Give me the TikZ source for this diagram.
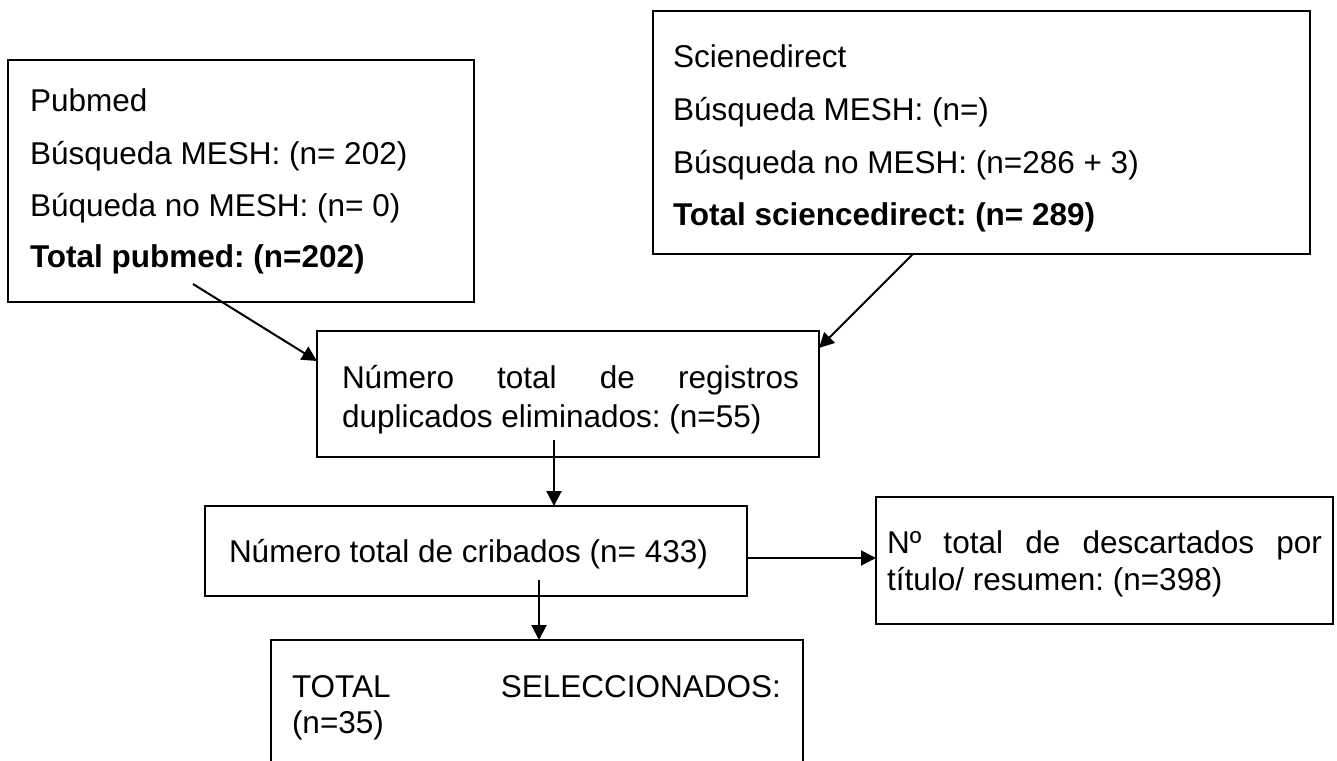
\documentclass[tikz,border=0pt]{standalone}
\usepackage{fontspec}
\setmainfont{Liberation Sans}
\usetikzlibrary{arrows.meta,calc}
\frenchspacing
\begin{document}
\begin{tikzpicture}[x=1pt,y=-1pt,
  box/.style={draw, line width=1.5pt, inner sep=0pt, outer sep=0pt},
  txt/.style={anchor=base west, inner sep=0pt, outer sep=0pt, font=\fontsize{31.5}{36}\selectfont},
  arr/.style={line width=2pt, -{Triangle[length=15pt,width=15pt]}}]
\useasboundingbox (0,0) rectangle (1337,760);
\clip (0,0) rectangle (1337,760);
% boxes
\node[box, minimum width=466pt, minimum height=242pt] (pub) at (241,181) {};
\node[box, minimum width=657pt, minimum height=243pt] (sci) at (981.5,132.5) {};
\node[box, minimum width=502pt, minimum height=126pt] (reg) at (568,394) {};
\node[box, minimum width=542pt, minimum height=90pt] (crib) at (476,551) {};
\node[box, minimum width=457pt, minimum height=127pt] (desc) at (1104.5,560.5) {};
\node[box, minimum width=532pt, minimum height=150pt] (sel) at (537,715) {};
% texts
\node[txt] (pubt1) at (30,111) {Pubmed};
\node[txt] (pubt2) at (30,164) {Búsqueda MESH: (n= 202)};
\node[txt] (pubt3) at (30,216) {Búqueda no MESH: (n= 0)};
\node[txt] (pubt4) at (30,267) {\bfseries Total pubmed: (n=202)};
\node[txt] (scit1) at (673,67) {Scienedirect};
\node[txt] (scit2) at (673,120) {Búsqueda MESH: (n=)};
\node[txt] (scit3) at (673,173) {Búsqueda no MESH: (n=286 + 3)};
\node[txt] (scit4) at (673,225) {\bfseries Total sciencedirect: (n= 289)};
\node[txt] (regt1) at (342,388) {\makebox[457pt][s]{Número total de registros}};
\node[txt] (regt2) at (342,427) {duplicados eliminados: (n=55)};
\node[txt] (cribt) at (229,562) {Número total de cribados (n= 433)};
\node[txt] (desct1) at (887,553) {\makebox[435pt][s]{Nº total de descartados por}};
\node[txt] (desct2) at (887,590) {título/ resumen: (n=398)};
\node[txt] (selt1) at (292,697) {\makebox[489pt][s]{TOTAL SELECCIONADOS:}};
\node[txt] (selt2) at (292,733) {(n=35)};
% connectors
\coordinate (pubout) at (193,284);
\coordinate (sciout) at ($(sci.south west)+(260,0)$);
\coordinate (regout) at (554,440);
\coordinate (cribout) at (539,580);
\draw[arr] (pubout) -- ($(reg.north west)+(0,30)$);
\draw[arr] (sciout) -- ($(reg.north east)+(0,17)$);
\draw[arr] (regout) -- (regout |- crib.north);
\draw[arr] ($(crib.north east)+(0,52)$) -- ($(desc.north west)+(0,61)$);
\draw[arr] (cribout) -- (cribout |- sel.north);
\end{tikzpicture}
\end{document}
